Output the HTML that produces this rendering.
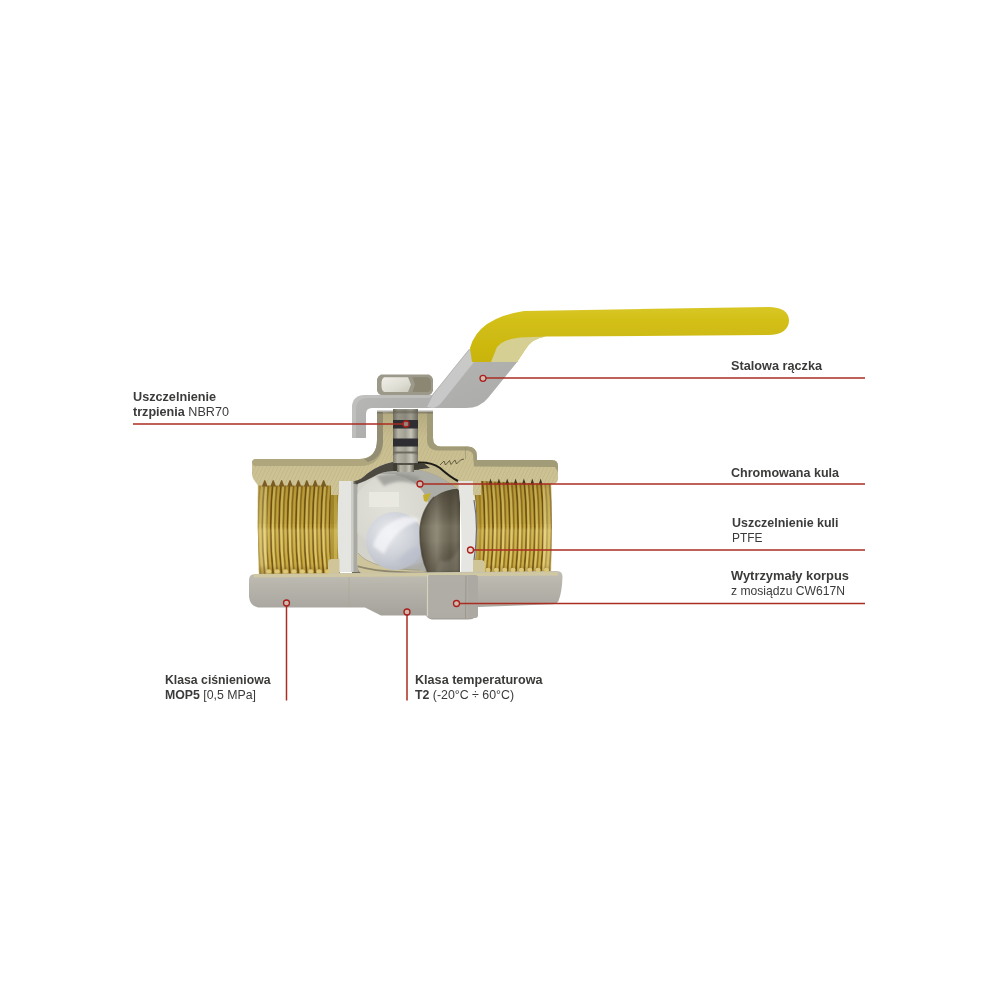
<!DOCTYPE html>
<html lang="pl">
<head>
<meta charset="utf-8">
<title>Zawór kulowy do gazu – przekrój</title>
<style>
html,body{margin:0;padding:0;background:#fff;}
body{width:1000px;height:1000px;position:relative;overflow:hidden;font-family:"Liberation Sans",sans-serif;}
.lb{position:absolute;white-space:nowrap;font-size:13px;line-height:15px;color:#3b3b3a;font-weight:400;transform-origin:0 50%;}
.lb b{font-weight:700;}
</style>
</head>
<body>
<svg width="1000" height="1000" viewBox="0 0 1000 1000" style="position:absolute;left:0;top:0">
<defs>
<linearGradient id="gNickel" x1="0" y1="0" x2="0" y2="1">
  <stop offset="0" stop-color="#c0beb5"/>
  <stop offset="0.3" stop-color="#b6b4ab"/>
  <stop offset="0.6" stop-color="#aeaca4"/>
  <stop offset="1" stop-color="#a2a099"/>
</linearGradient>
<linearGradient id="gBeige" x1="0" y1="0" x2="0" y2="1">
  <stop offset="0" stop-color="#b3aa80"/>
  <stop offset="0.3" stop-color="#c8bd8f"/>
  <stop offset="1" stop-color="#cfc495"/>
</linearGradient>
<linearGradient id="gThread" x1="0" y1="0" x2="8.4" y2="0" gradientUnits="userSpaceOnUse" spreadMethod="repeat">
  <stop offset="0" stop-color="#8f6d24"/>
  <stop offset="0.10" stop-color="#ad8f2e"/>
  <stop offset="0.27" stop-color="#cdb248"/>
  <stop offset="0.42" stop-color="#b4952f"/>
  <stop offset="0.50" stop-color="#9a7a28"/>
  <stop offset="0.60" stop-color="#b89a32"/>
  <stop offset="0.76" stop-color="#d2b950"/>
  <stop offset="0.90" stop-color="#ad8f2e"/>
  <stop offset="1" stop-color="#8f6d24"/>
</linearGradient>
<linearGradient id="gThreadV" x1="0" y1="0" x2="0" y2="1">
  <stop offset="0" stop-color="#5a3c10" stop-opacity="0.42"/>
  <stop offset="0.12" stop-color="#6b5010" stop-opacity="0.2"/>
  <stop offset="0.47" stop-color="#6b5a10" stop-opacity="0.08"/>
  <stop offset="0.50" stop-color="#fff0a0" stop-opacity="0.0"/>
  <stop offset="0.54" stop-color="#fff0a0" stop-opacity="0.2"/>
  <stop offset="0.72" stop-color="#fff0a0" stop-opacity="0.1"/>
  <stop offset="0.86" stop-color="#fff0a0" stop-opacity="0.02"/>
  <stop offset="0.93" stop-color="#6b4a10" stop-opacity="0.18"/>
  <stop offset="1" stop-color="#6b4a10" stop-opacity="0.4"/>
</linearGradient>
<radialGradient id="gBall" cx="0.45" cy="0.35" r="0.75">
  <stop offset="0" stop-color="#f4f4f2"/>
  <stop offset="0.5" stop-color="#e2e2df"/>
  <stop offset="0.85" stop-color="#c9c9c4"/>
  <stop offset="1" stop-color="#a9a9a2"/>
</radialGradient>
<radialGradient id="gBall2" cx="0.4" cy="0.35" r="0.7">
  <stop offset="0" stop-color="#f2f3f5"/>
  <stop offset="0.6" stop-color="#d9dbe0"/>
  <stop offset="1" stop-color="#bfc2c8"/>
</radialGradient>
<linearGradient id="gBore" x1="0" y1="0" x2="1" y2="0">
  <stop offset="0" stop-color="#6f6a5a"/>
  <stop offset="0.25" stop-color="#8b8676"/>
  <stop offset="0.55" stop-color="#6a6556"/>
  <stop offset="0.8" stop-color="#807b6b"/>
  <stop offset="1" stop-color="#a29d8d"/>
</linearGradient>
<linearGradient id="gBoreV" x1="0" y1="0" x2="0" y2="1">
  <stop offset="0" stop-color="#3a3528" stop-opacity="0.6"/>
  <stop offset="0.3" stop-color="#3a3528" stop-opacity="0.15"/>
  <stop offset="0.45" stop-color="#b0aa96" stop-opacity="0.18"/>
  <stop offset="0.62" stop-color="#b0aa96" stop-opacity="0.12"/>
  <stop offset="0.75" stop-color="#3a3528" stop-opacity="0.1"/>
  <stop offset="1" stop-color="#3a3528" stop-opacity="0.45"/>
</linearGradient>
<linearGradient id="gStem" x1="0" y1="0" x2="1" y2="0">
  <stop offset="0" stop-color="#6f6c5f"/>
  <stop offset="0.2" stop-color="#b6b4a7"/>
  <stop offset="0.5" stop-color="#a19f92"/>
  <stop offset="0.72" stop-color="#c6c4b8"/>
  <stop offset="1" stop-color="#6d6a5e"/>
</linearGradient>
<linearGradient id="gNutL" x1="0" y1="0" x2="1" y2="1">
  <stop offset="0" stop-color="#f1efe8"/>
  <stop offset="0.6" stop-color="#deddd3"/>
  <stop offset="1" stop-color="#cbc9bd"/>
</linearGradient>
<linearGradient id="gHandle" x1="0" y1="0" x2="1" y2="1">
  <stop offset="0" stop-color="#bebebd"/>
  <stop offset="0.5" stop-color="#b0b0ae"/>
  <stop offset="1" stop-color="#a8a8a6"/>
</linearGradient>
<linearGradient id="gYellow" x1="0" y1="0" x2="0" y2="1">
  <stop offset="0" stop-color="#d8c726"/>
  <stop offset="0.3" stop-color="#d2be14"/>
  <stop offset="1" stop-color="#c9b40e"/>
</linearGradient>
<pattern id="hatch" width="3.4" height="3.4" patternUnits="userSpaceOnUse" patternTransform="rotate(-65)">
  <rect width="5" height="5" fill="none"/>
  <line x1="0" y1="0" x2="5" y2="0" stroke="#ada177" stroke-width="0.9" opacity="0.55"/>
</pattern>
<filter id="soft" x="-5%" y="-5%" width="110%" height="110%"><feGaussianBlur stdDeviation="0.45"/></filter>
<filter id="soft2" x="-10%" y="-10%" width="120%" height="120%"><feGaussianBlur stdDeviation="1.6"/></filter>
<filter id="soft3" x="-10%" y="-10%" width="120%" height="120%"><feGaussianBlur stdDeviation="3"/></filter>

<clipPath id="cTL"><path d="M258 478 L340 478 L340 575 L259 575 Q257 527 258 478 Z"/></clipPath>
<clipPath id="cTR"><path d="M472 478 L551 478 Q553 527 551 575 L472 575 Z"/></clipPath>

<clipPath id="cBall"><path d="M357.5 488 Q357.5 477 368 475.5 L392 470 L420 470 Q438 473 460 491 L460 573 L363 573 Q357.5 573 357.5 563 Z"/></clipPath>
<radialGradient id="gDisc1" cx="0.45" cy="0.4" r="0.6">
  <stop offset="0" stop-color="#e1e0d9"/>
  <stop offset="0.8" stop-color="#d9d8d0"/>
  <stop offset="1" stop-color="#cecdc5"/>
</radialGradient>
<radialGradient id="gDisc2" cx="0.4" cy="0.35" r="0.75">
  <stop offset="0" stop-color="#e8eaee"/>
  <stop offset="0.55" stop-color="#ced1d8"/>
  <stop offset="1" stop-color="#b2b6bf"/>
</radialGradient>
<clipPath id="cBore"><rect x="415" y="485" width="45" height="90"/></clipPath>
<linearGradient id="gBoreR" x1="420" y1="0" x2="460" y2="0" gradientUnits="userSpaceOnUse">
  <stop offset="0" stop-color="#4c4637"/>
  <stop offset="0.12" stop-color="#5d5748"/>
  <stop offset="0.28" stop-color="#7a7464"/>
  <stop offset="0.42" stop-color="#8a8473"/>
  <stop offset="0.58" stop-color="#716b5b"/>
  <stop offset="0.75" stop-color="#615b4b"/>
  <stop offset="0.9" stop-color="#6d6757"/>
  <stop offset="1" stop-color="#585242"/>
</linearGradient>
</defs>
<g filter="url(#soft)">
<g clip-path="url(#cTL)">
<rect x="254" y="478" width="88" height="97" fill="#ae8e2c"/>
<path d="M256.4 478 Q251.4 526.5 256.4 575 M264.8 478 Q259.8 526.5 264.8 575 M273.2 478 Q268.2 526.5 273.2 575 M281.6 478 Q276.6 526.5 281.6 575 M290.0 478 Q285.0 526.5 290.0 575 M298.4 478 Q293.4 526.5 298.4 575 M306.8 478 Q301.8 526.5 306.8 575 M315.2 478 Q310.2 526.5 315.2 575 M323.6 478 Q318.6 526.5 323.6 575 M332.0 478 Q327.0 526.5 332.0 575" stroke="#6e4e18" stroke-width="1.5" fill="none"/><path d="M258.5 478 Q253.5 526.5 258.5 575 M266.9 478 Q261.9 526.5 266.9 575 M275.3 478 Q270.3 526.5 275.3 575 M283.7 478 Q278.7 526.5 283.7 575 M292.1 478 Q287.1 526.5 292.1 575 M300.5 478 Q295.5 526.5 300.5 575 M308.9 478 Q303.9 526.5 308.9 575 M317.3 478 Q312.3 526.5 317.3 575 M325.7 478 Q320.7 526.5 325.7 575 M334.1 478 Q329.1 526.5 334.1 575" stroke="#d9c260" stroke-width="2.1" fill="none"/><path d="M260.6 478 Q255.6 526.5 260.6 575 M269.0 478 Q264.0 526.5 269.0 575 M277.4 478 Q272.4 526.5 277.4 575 M285.8 478 Q280.8 526.5 285.8 575 M294.2 478 Q289.2 526.5 294.2 575 M302.6 478 Q297.6 526.5 302.6 575 M311.0 478 Q306.0 526.5 311.0 575 M319.4 478 Q314.4 526.5 319.4 575 M327.8 478 Q322.8 526.5 327.8 575 M336.2 478 Q331.2 526.5 336.2 575" stroke="#8a6a24" stroke-width="1.1" fill="none"/><path d="M262.7 478 Q257.7 526.5 262.7 575 M271.1 478 Q266.1 526.5 271.1 575 M279.5 478 Q274.5 526.5 279.5 575 M287.9 478 Q282.9 526.5 287.9 575 M296.3 478 Q291.3 526.5 296.3 575 M304.7 478 Q299.7 526.5 304.7 575 M313.1 478 Q308.1 526.5 313.1 575 M321.5 478 Q316.5 526.5 321.5 575 M329.9 478 Q324.9 526.5 329.9 575 M338.3 478 Q333.3 526.5 338.3 575" stroke="#c9ac42" stroke-width="1.9" fill="none"/>
<rect x="257" y="478" width="10" height="97" fill="#efe3a4" opacity="0.35"/>
<rect x="330.5" y="486" width="9.5" height="89" fill="#a88c2c"/>
<rect x="334" y="486" width="3" height="89" fill="#d3bb58" opacity="0.6"/>
<rect x="254" y="478" width="88" height="97" fill="url(#gThreadV)"/>
</g>
<g clip-path="url(#cTR)">
<rect x="470" y="478" width="84" height="97" fill="#ae8e2c"/>
<path d="M465.4 478 Q470.4 526.5 465.4 575 M473.8 478 Q478.8 526.5 473.8 575 M482.2 478 Q487.2 526.5 482.2 575 M490.5 478 Q495.5 526.5 490.5 575 M498.9 478 Q503.9 526.5 498.9 575 M507.2 478 Q512.2 526.5 507.2 575 M515.6 478 Q520.6 526.5 515.6 575 M523.9 478 Q528.9 526.5 523.9 575 M532.3 478 Q537.3 526.5 532.3 575 M540.6 478 Q545.6 526.5 540.6 575 M549.0 478 Q554.0 526.5 549.0 575 M557.3 478 Q562.3 526.5 557.3 575" stroke="#6e4e18" stroke-width="1.5" fill="none"/><path d="M467.6 478 Q472.6 526.5 467.6 575 M475.9 478 Q480.9 526.5 475.9 575 M484.3 478 Q489.3 526.5 484.3 575 M492.6 478 Q497.6 526.5 492.6 575 M501.0 478 Q506.0 526.5 501.0 575 M509.3 478 Q514.3 526.5 509.3 575 M517.7 478 Q522.7 526.5 517.7 575 M526.0 478 Q531.0 526.5 526.0 575 M534.4 478 Q539.4 526.5 534.4 575 M542.7 478 Q547.7 526.5 542.7 575 M551.1 478 Q556.1 526.5 551.1 575" stroke="#d9c260" stroke-width="2.1" fill="none"/><path d="M469.6 478 Q474.6 526.5 469.6 575 M478.0 478 Q483.0 526.5 478.0 575 M486.4 478 Q491.4 526.5 486.4 575 M494.7 478 Q499.7 526.5 494.7 575 M503.1 478 Q508.1 526.5 503.1 575 M511.4 478 Q516.4 526.5 511.4 575 M519.8 478 Q524.8 526.5 519.8 575 M528.1 478 Q533.1 526.5 528.1 575 M536.5 478 Q541.5 526.5 536.5 575 M544.8 478 Q549.8 526.5 544.8 575 M553.2 478 Q558.2 526.5 553.2 575" stroke="#8a6a24" stroke-width="1.1" fill="none"/><path d="M471.8 478 Q476.8 526.5 471.8 575 M480.1 478 Q485.1 526.5 480.1 575 M488.5 478 Q493.5 526.5 488.5 575 M496.8 478 Q501.8 526.5 496.8 575 M505.2 478 Q510.2 526.5 505.2 575 M513.5 478 Q518.5 526.5 513.5 575 M521.9 478 Q526.9 526.5 521.9 575 M530.2 478 Q535.2 526.5 530.2 575 M538.6 478 Q543.6 526.5 538.6 575 M546.9 478 Q551.9 526.5 546.9 575 M555.3 478 Q560.3 526.5 555.3 575" stroke="#c9ac42" stroke-width="1.9" fill="none"/>
<rect x="472" y="478" width="9" height="97" fill="#a88c2c" opacity="0.7"/>
<rect x="543" y="478" width="10" height="97" fill="#efe3a4" opacity="0.35"/>
<rect x="470" y="478" width="84" height="97" fill="url(#gThreadV)"/>
</g>
</g>
<g filter="url(#soft)">
<path d="M352 481 L394 461 L418 461 L458 481 L460 481 L460 574 L352 574 Z" fill="#6f6b5a"/>
<rect x="353" y="484" width="5.5" height="88" fill="#a9a9a2"/>
<g clip-path="url(#cBall)">
<rect x="350" y="465" width="115" height="112" fill="#adada8"/>
<rect x="356" y="474" width="40" height="100" fill="#d4d3cb"/>
<circle cx="391" cy="514" r="39" fill="url(#gDisc1)"/>
<rect x="369" y="492" width="30" height="15" fill="#ebeae3" opacity="0.85"/>
<path d="M376 476 Q400 470 420 478 L416 484 Q398 478 384 486 Z" fill="#8e8e8a" opacity="0.7" filter="url(#soft2)"/>
<path d="M356 551 Q368 570 424 571 L430 576 L356 576 Z" fill="#cfc59c"/>
<path d="M357 566 Q380 573 428 572.5" stroke="#6a6654" stroke-width="1.8" fill="none" opacity="0.65"/>
<path d="M358 553 Q370 569 420 570" stroke="#a39b78" stroke-width="1" fill="none" opacity="0.7"/>
<circle cx="395" cy="541" r="29" fill="url(#gDisc2)"/>
<path d="M373 546 Q379 524 404 517 Q416 516 420 521 Q396 526 384 554 Z" fill="#f6f7fa" opacity="0.75" filter="url(#soft2)"/>
<path d="M398 560 Q412 544 423 548 L422 562 Q408 570 398 560 Z" fill="#b9bfcd" opacity="0.6" filter="url(#soft2)"/>
<path d="M423 495 L431 493 L427 502 L424 501 Z" fill="#c4b02e"/>
</g>
<g clip-path="url(#cBore)">
<path d="M460 488.5 Q445 489 434 497 Q420 512 420 533 Q420 556 428 573 L460 573 Z" fill="url(#gBoreR)"/>
<path d="M460 488.5 Q445 489 434 497 Q420 512 420 533 Q420 556 428 573 L460 573 Z" fill="url(#gBoreV)"/>
<path d="M434 497 Q420 512 420 533 Q420 556 428 573" stroke="#4a4536" stroke-width="1.6" fill="none" opacity="0.7"/>
<path d="M440 560 Q452 566 460 545 L460 572 L436 572 Z" fill="#9a9585" opacity="0.35" filter="url(#soft2)"/>
</g>
<path d="M418 463 Q432 462 440 468 Q450 477 458 481 L460 491 Q438 473 419 470 Z" fill="#c2b890"/>
</g>
<g filter="url(#soft)">
<path d="M339 481 L353 481 L353 572 L339 572 Q336 526 339 481 Z" fill="#e4e4e0"/>
<path d="M351 481 L353.5 481 L353.5 572 L351 572 Z" fill="#cdcdc8"/>
<path d="M458 481 L473 481 Q480 526 474 572 L461 572 Q463 526 458 481 Z" fill="#e5e5e1"/>
<path d="M474 500 Q479 528 474 560" stroke="#6b6a78" stroke-width="1.2" fill="none"/>
</g>
<g filter="url(#soft)">
<rect x="393" y="409" width="25" height="47" fill="url(#gStem)"/>
<rect x="393" y="409" width="25" height="11" fill="#6f6c60" opacity="0.45"/>
<rect x="393" y="420" width="25" height="8.5" fill="#2e2d30"/>
<rect x="393" y="438.5" width="25" height="8" fill="#2e2d30"/>
<rect x="393" y="451.5" width="25" height="2" fill="#6e6b60"/>
<rect x="392" y="455" width="27" height="8" fill="url(#gStem)"/>
<rect x="397" y="463" width="17" height="9" fill="url(#gStem)"/>
<rect x="393" y="463" width="26" height="2" fill="#55524a"/>
<path d="M386 464 L397 463 L397 471 L384 471 Z M414 463 L424 463.5 L430 468 L414 470 Z" fill="#3f3d35"/>
</g>
<g filter="url(#soft)">
<path d="M252 463 Q252 459 256 459 L360 459 Q377 458 377 440 L377 413 L393 412 L393 462 Q378 465 368 473 Q361 480 355 481 L339 481 L339 495 L331 495 L331 485.5 L258 485.5 L254 480 Q252 477 252 474 Z" fill="url(#gBeige)"/>
<path d="M252 463 Q252 459 256 459 L360 459 Q377 458 377 440 L377 413 L393 412 L393 462 Q378 465 368 473 Q361 480 355 481 L339 481 L339 495 L331 495 L331 485.5 L258 485.5 L254 480 Q252 477 252 474 Z" fill="url(#hatch)"/>
<path d="M418 412 L433 412 L433 438 Q433 446.5 441 446.5 L468 446.5 Q477 447 477 456 L477 460 L552 460 Q558 460 558 466 L558 478 Q558 484 552 484 L481 481 L481 495 L473 495 L473 481 L457 481 L444 471 Q434 463 418 462 Z" fill="url(#gBeige)"/>
<path d="M418 412 L433 412 L433 438 Q433 446.5 441 446.5 L468 446.5 Q477 447 477 456 L477 460 L552 460 Q558 460 558 466 L558 478 Q558 484 552 484 L481 481 L481 495 L473 495 L473 481 L457 481 L444 471 Q434 463 418 462 Z" fill="url(#hatch)"/>
<path d="M252 463 Q252 459 256 459 L360 459 Q377 458 377 440 L377 412 L383 412 L383 442 Q382 466 360 466 L254 466 L252 463 Z" fill="#afa67e"/>
<path d="M364 459 Q377 456 377 440 L377 412 L383 412 L383 442 Q382 458 368 462 Z" fill="#8b8770" opacity="0.8"/>
<path d="M427 412 L433 412 L433 438 Q433 446.5 441 446.5 L468 446.5 Q477 447 477 456 L477 460 L552 460 Q558 460 558 466 L558 472 L555 467 L474 466.5 L473 455 Q472 450.5 466 450.5 L438 450.5 Q427 450 427 440 Z" fill="#a29b78"/>
<rect x="377" y="410.5" width="56" height="3" fill="#5f5c50" opacity="0.5"/>
<path d="M261.9 486.5 L264.2 480.6 Q264.8 479.6 265.4 480.6 L267.7 486.5 Z M270.3 486.5 L272.6 480.6 Q273.2 479.6 273.8 480.6 L276.1 486.5 Z M278.7 486.5 L281.0 480.6 Q281.6 479.6 282.2 480.6 L284.5 486.5 Z M287.1 486.5 L289.4 480.6 Q290.0 479.6 290.6 480.6 L292.9 486.5 Z M295.5 486.5 L297.8 480.6 Q298.4 479.6 299.0 480.6 L301.3 486.5 Z M303.9 486.5 L306.2 480.6 Q306.8 479.6 307.4 480.6 L309.7 486.5 Z M312.3 486.5 L314.6 480.6 Q315.2 479.6 315.8 480.6 L318.1 486.5 Z M320.7 486.5 L323.0 480.6 Q323.6 479.6 324.2 480.6 L326.5 486.5 Z" fill="#7a5b24"/>
<path d="M488.5 484.5 L490.5 478.5 L492.5 484.5 Z M496.9 484.5 L498.9 478.5 L500.9 484.5 Z M505.2 484.5 L507.2 478.5 L509.2 484.5 Z M513.6 484.5 L515.6 478.5 L517.6 484.5 Z M521.9 484.5 L523.9 478.5 L525.9 484.5 Z M530.3 484.5 L532.3 478.5 L534.3 484.5 Z M538.6 484.5 L540.6 478.5 L542.6 484.5 Z" fill="#3f3620"/>
<path d="M418 462.5 Q432 462 440 468 Q450 477 458 481" stroke="#1d1b18" stroke-width="2" fill="none"/>
<path d="M393 462 Q378 465 368 473 Q361 480 355 481 L356 484.5 Q364 482 373 477 Q382 471 393 471 Z" fill="#4b493f"/>
<path d="M465.5 447 L465.5 459" stroke="#8d8765" stroke-width="0.8" fill="none" opacity="0.6"/>
<path d="M440 465 L444 461 L445.5 465 L449.5 460.5 L451 464.5 L455 460 L456.5 464 L460.5 460 L464 459" stroke="#4b452f" stroke-width="0.8" fill="none"/>
</g>
<path d="M473 574 L473 560 L481 560 Q485 560 485 564 L485 574 Z M339.5 574 L339.5 559 L332 559 Q328 559 328 563 L328 574 Z" fill="#cfc598" filter="url(#soft)"/>
<g filter="url(#soft)">
<path d="M249 580 Q249 574 255 574 L557 571 Q562.5 571 562.5 577 Q562 592 558.5 601 Q557 604 553 604.2 L478 607 L478 610 Q478 619.5 468 619.5 L432 619.5 Q428 619 426 615.5 L381 615.5 L365 607.5 L258 607.5 Q250 606 249 597 Z" fill="url(#gNickel)"/>
<path d="M254 574 L558 572 L558 575.5 L254 577.5 Z" fill="#d4caa0" opacity="0.85"/>
<ellipse cx="268.8" cy="571.5" rx="2.6" ry="2.2" fill="#dcc778"/><ellipse cx="277.2" cy="571.5" rx="2.6" ry="2.2" fill="#dcc778"/><ellipse cx="285.6" cy="571.5" rx="2.6" ry="2.2" fill="#dcc778"/><ellipse cx="294.0" cy="571.5" rx="2.6" ry="2.2" fill="#dcc778"/><ellipse cx="302.4" cy="571.5" rx="2.6" ry="2.2" fill="#dcc778"/><ellipse cx="310.8" cy="571.5" rx="2.6" ry="2.2" fill="#dcc778"/><ellipse cx="319.2" cy="571.5" rx="2.6" ry="2.2" fill="#dcc778"/><ellipse cx="327.6" cy="571.5" rx="2.6" ry="2.2" fill="#dcc778"/><ellipse cx="488.0" cy="570" rx="2.6" ry="2.2" fill="#dcc778"/><ellipse cx="496.4" cy="570" rx="2.6" ry="2.2" fill="#dcc778"/><ellipse cx="504.7" cy="570" rx="2.6" ry="2.2" fill="#dcc778"/><ellipse cx="513.1" cy="570" rx="2.6" ry="2.2" fill="#dcc778"/><ellipse cx="521.4" cy="570" rx="2.6" ry="2.2" fill="#dcc778"/><ellipse cx="529.8" cy="570" rx="2.6" ry="2.2" fill="#dcc778"/><ellipse cx="538.1" cy="570" rx="2.6" ry="2.2" fill="#dcc778"/><ellipse cx="546.5" cy="570" rx="2.6" ry="2.2" fill="#dcc778"/>
<rect x="426.5" y="575" width="51.5" height="43" rx="4" fill="#afada5" opacity="0.95"/>
<rect x="468" y="575" width="10" height="43" rx="3" fill="#aba9a1" opacity="0.9"/>
<path d="M427.5 575 L427.5 616" stroke="#d6d2c2" stroke-width="1.2"/>
<path d="M466 576 L465.5 618.5" stroke="#9a988f" stroke-width="1"/>
<path d="M349 577 L349 607" stroke="#aaa695" stroke-width="1" opacity="0.6"/>
</g>
<g filter="url(#soft)">
<path d="M352 408 Q352 395 366 395 L432 395 L469 349 L518 361 L488 398 Q480 408 466 408 L372 408 Q366 408 366 414 L366 438 L352 438 Z" fill="url(#gHandle)"/>
<path d="M427 407 L433 395 L470 349 L474 362 L442 402 Q438 407 433 408 Z" fill="#cccccd" opacity="0.85"/>
<path d="M352 408 Q352 395 366 395 L432 395 L430 398 L368 398 Q356 398 356 410 L356 438 L352 438 Z" fill="#c6c6c4" opacity="0.6"/>
<path d="M381 374.5 L429 374.5 Q432 375.5 433 379 L433 391 Q432 394 429 395 L381 395 Q378 394 377 391 L377 379 Q378 375.5 381 374.5 Z" fill="#9c998b"/>
<path d="M384 377.3 L408 377.3 L411 384.5 L408 392 L384 392 Q381.5 390 381.5 387 L381.5 382 Q381.5 379 384 377.3 Z" fill="url(#gNutL)"/>
<path d="M412.5 377.3 L428 377.3 Q431 378.5 431 381 L431 388 Q431 391 428 392 L412.5 392 L415 384.5 Z" fill="#8b8773"/>
<path d="M470 348 Q478 318 524 311 L768 306.9 C782 306.9 789 312 789 320.5 C789 329 782 335 768 335.1 L546 336.5 Q532 338 525 350 L517 362 L472 362 Z" fill="url(#gYellow)"/>
<path d="M491 362 L497 347 Q503 339 520 337.5 L546 336.5 Q532 338 525 350 L517 362 Z" fill="#d6d1a2" opacity="0.9"/>
</g>
<line x1="133" y1="424" x2="403" y2="424" stroke="#aa2d21" stroke-width="1.5"/>
<circle cx="406" cy="424" r="3" fill="#ecc9b4" fill-opacity="0.55" stroke="#ab1e1c" stroke-width="1.3"/>
<line x1="486" y1="378" x2="865" y2="378" stroke="#aa2d21" stroke-width="1.5"/>
<circle cx="483" cy="378.3" r="3" fill="#ecc9b4" fill-opacity="0.55" stroke="#ab1e1c" stroke-width="1.3"/>
<line x1="423" y1="484" x2="865" y2="484" stroke="#aa2d21" stroke-width="1.5"/>
<circle cx="420" cy="484" r="3" fill="#ecc9b4" fill-opacity="0.55" stroke="#ab1e1c" stroke-width="1.3"/>
<line x1="473.5" y1="550" x2="865" y2="550" stroke="#aa2d21" stroke-width="1.5"/>
<circle cx="470.5" cy="550" r="3" fill="#ecc9b4" fill-opacity="0.55" stroke="#ab1e1c" stroke-width="1.3"/>
<line x1="459.5" y1="603.5" x2="865" y2="603.5" stroke="#aa2d21" stroke-width="1.5"/>
<circle cx="456.5" cy="603.5" r="3" fill="#ecc9b4" fill-opacity="0.55" stroke="#ab1e1c" stroke-width="1.3"/>
<line x1="286.5" y1="606" x2="286.5" y2="700.5" stroke="#aa2d21" stroke-width="1.5"/>
<circle cx="286.5" cy="603" r="3" fill="#ecc9b4" fill-opacity="0.55" stroke="#ab1e1c" stroke-width="1.3"/>
<line x1="407" y1="615" x2="407" y2="700.5" stroke="#aa2d21" stroke-width="1.5"/>
<circle cx="407" cy="612" r="3" fill="#ecc9b4" fill-opacity="0.55" stroke="#ab1e1c" stroke-width="1.3"/>
</svg>
<div class="lb" id="l1a" style="left:132.7px;top:388.80px;transform:scaleX(0.9734)"><b>Uszczelnienie</b></div>
<div class="lb" id="l1b" style="left:132.7px;top:403.80px;transform:scaleX(0.9697)"><b>trzpienia</b> NBR70</div>
<div class="lb" id="l2" style="left:730.7px;top:357.80px;transform:scaleX(0.9762)"><b>Stalowa rączka</b></div>
<div class="lb" id="l3" style="left:731.2px;top:464.80px;transform:scaleX(0.9646)"><b>Chromowana kula</b></div>
<div class="lb" id="l4a" style="left:731.7px;top:515.00px;transform:scaleX(0.9572)"><b>Uszczelnienie kuli</b></div>
<div class="lb" id="l4b" style="left:731.7px;top:529.80px;transform:scaleX(0.9177)">PTFE</div>
<div class="lb" id="l5a" style="left:731.2px;top:567.80px;transform:scaleX(0.9919)"><b>Wytrzymały korpus</b></div>
<div class="lb" id="l5b" style="left:731.2px;top:582.80px;transform:scaleX(0.9336)">z mosiądzu CW617N</div>
<div class="lb" id="l6a" style="left:164.7px;top:671.90px;transform:scaleX(0.9420)"><b>Klasa ciśnieniowa</b></div>
<div class="lb" id="l6b" style="left:164.7px;top:686.70px;transform:scaleX(0.9470)"><b>MOP5</b> [0,5 MPa]</div>
<div class="lb" id="l7a" style="left:414.7px;top:671.90px;transform:scaleX(0.9696)"><b>Klasa temperaturowa</b></div>
<div class="lb" id="l7b" style="left:414.7px;top:686.70px;transform:scaleX(0.9498)"><b>T2</b> (-20°C ÷ 60°C)</div>
</body>
</html>
